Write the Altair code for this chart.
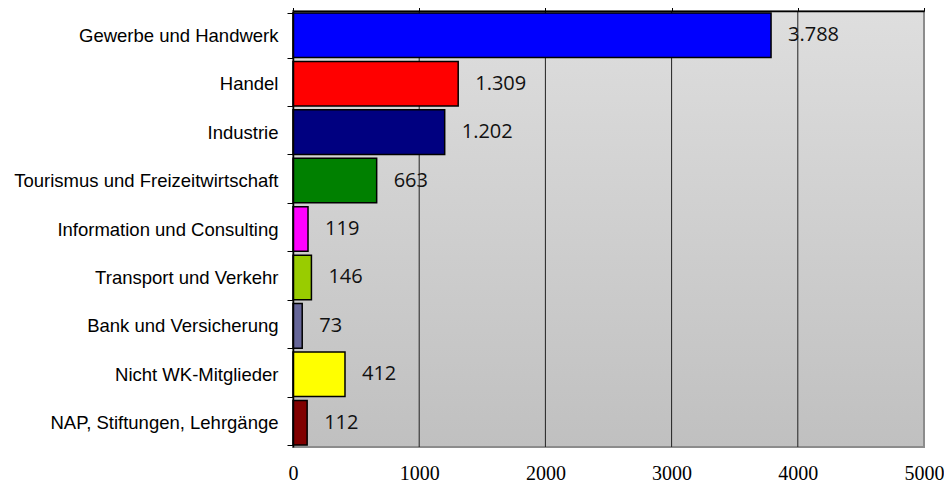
import altair as alt
import pandas as pd

categories = [
    "Gewerbe und Handwerk",
    "Handel",
    "Industrie",
    "Tourismus und Freizeitwirtschaft",
    "Information und Consulting",
    "Transport und Verkehr",
    "Bank und Versicherung",
    "Nicht WK-Mitglieder",
    "NAP, Stiftungen, Lehrgänge",
]
values = [3788, 1309, 1202, 663, 119, 146, 73, 412, 112]
colors = ["#0000ff", "#ff0000", "#000080", "#008000", "#ff00ff",
          "#99cc00", "#666699", "#ffff00", "#800000"]
grid_values = [1000, 2000, 3000, 4000]
tick_values = [0, 1000, 2000, 3000, 4000, 5000]

W, H = 631, 436

df = pd.DataFrame({
    "cat": categories,
    "value": values,
    "label": [f"{v:,}".replace(",", ".") for v in values],
})
grid_df = pd.DataFrame({"g": grid_values})

xscale = alt.Scale(domain=[0, 5000], nice=False, zero=True)
yscale = alt.Scale(domain=categories, paddingInner=0.08, paddingOuter=0.04)

yaxis = alt.Axis(title=None, labelFont="Liberation Sans",
                 labelFontSize=18.5, labelColor="black",
                 labelPadding=9, tickBand="extent", tickSize=6,
                 tickColor="black", domainColor="black",
                 domainWidth=1.5, zindex=2, labelLimit=400)

background = alt.Chart(alt.Data(values=[{"a": 1}])).mark_rect(
    fill=alt.Gradient(
        gradient="linear",
        stops=[alt.GradientStop(color="#dedede", offset=0),
               alt.GradientStop(color="#c0c0c0", offset=1)],
        x1=0, x2=0, y1=0, y2=1,
    ),
    stroke="#8c8c8c",
    strokeWidth=2,
).encode(
    x=alt.value(0), x2=alt.value(W), y=alt.value(0), y2=alt.value(H)
)

grid = alt.Chart(grid_df).mark_rule(color="#222222", strokeWidth=1).encode(
    x=alt.X("g:Q", scale=xscale,
            axis=alt.Axis(orient="top", values=tick_values, labels=False,
                          grid=False, domain=True, domainColor="black",
                          domainWidth=1.5, ticks=True, tickColor="black",
                          tickSize=7, tickWidth=1, title=None, zindex=2)),
    y=alt.value(0),
    y2=alt.value(H),
)

bars = alt.Chart(df).mark_bar(stroke="black", strokeWidth=1.5).encode(
    y=alt.Y("cat:N", sort=categories, scale=yscale, axis=yaxis),
    x=alt.X("value:Q", scale=xscale,
            axis=alt.Axis(orient="bottom", values=tick_values, grid=False,
                          domain=False, ticks=False, tickSize=0,
                          labelPadding=16, labelFont="Liberation Serif",
                          labelFontSize=20, labelColor="black", title=None,
                          format="d", labelFlush=False, labelOverlap=False)),
    color=alt.Color("cat:N", scale=alt.Scale(domain=categories, range=colors),
                    legend=None),
)

text = alt.Chart(df).mark_text(
    align="left", baseline="middle", dx=17, font="Open Sans",
    fontSize=20, color="#111111",
).encode(
    y=alt.Y("cat:N", sort=categories, scale=yscale, axis=yaxis),
    x=alt.X("value:Q", scale=xscale, axis=None),
    text="label:N",
)

chart = alt.layer(background, grid, bars, text).resolve_axis(
    x="independent"
).properties(
    width=W, height=H,
    autosize=alt.AutoSizeParams(type="none"),
    padding={"left": 285, "top": 3, "right": 20, "bottom": 36},
).configure_view(stroke=None)

chart.save("out.html", embed_options={"renderer": "svg", "actions": False})
